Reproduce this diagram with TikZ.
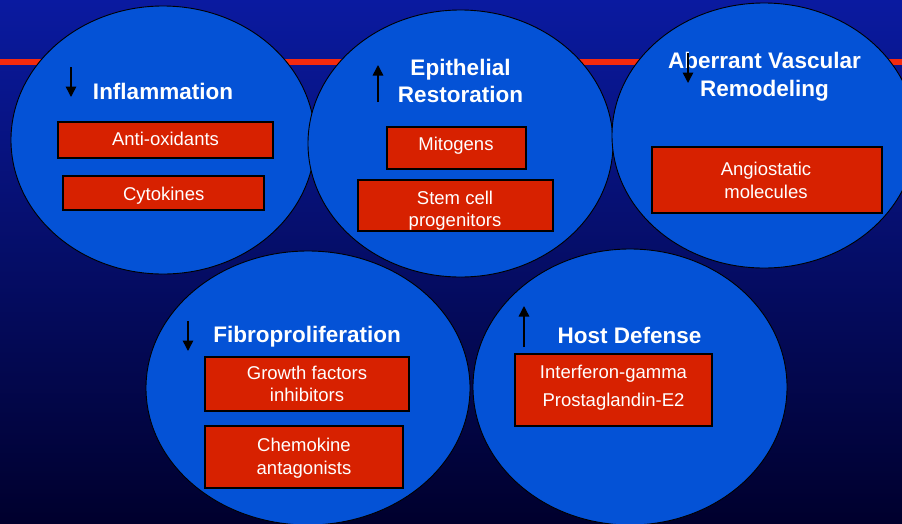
\documentclass[tikz,border=0pt]{standalone}
\usepackage{fontspec}
\setmainfont{Liberation Sans}
\usetikzlibrary{shapes.geometric,arrows.meta}
\definecolor{bgtop}{RGB}{10,26,160}
\definecolor{bgmid}{RGB}{0,22,138}
\definecolor{bgbot}{RGB}{0,0,45}
\definecolor{bubble}{RGB}{4,82,214}
\definecolor{boxred}{RGB}{215,33,0}
\definecolor{bandred}{RGB}{245,42,14}
\begin{document}
\begin{tikzpicture}[x=1pt,y=-1pt,
  bubblestyle/.style={ellipse, draw=black, fill=bubble, line width=0.9pt, inner sep=0pt},
  boxstyle/.style={rectangle, draw=black, fill=boxred, line width=1.1pt, inner sep=0pt},
  titlestyle/.style={font=\fontsize{22.5}{27}\selectfont\bfseries, text=white, anchor=base, inner sep=0pt},
  lblstyle/.style={font=\fontsize{18.5}{23}\selectfont, text=white, anchor=base, inner sep=0pt},
  arrowstyle/.style={black, line width=1.5pt, -{Triangle[width=10.5pt,length=10.5pt]}}]
\useasboundingbox (0,0) rectangle (902,523);
\clip (0,0) rectangle (902,523);
\fill[top color=bgtop, middle color=bgmid, bottom color=bgbot] (0,0) rectangle (902,523);
% red band
\coordinate (bandL) at (0,62);
\coordinate (bandR) at (902,62);
\draw[bandred, line width=5.5pt] (bandL) -- (bandR);
% bubbles
\node[bubblestyle, minimum width=304pt, minimum height=268pt] (e1) at (163,140) {};
\node[bubblestyle, minimum width=305pt, minimum height=267pt] (e2) at (460.5,143.5) {};
\node[bubblestyle, minimum width=304pt, minimum height=265pt] (e3) at (764,135.5) {};
\node[bubblestyle, minimum width=324pt, minimum height=274pt] (e4) at (308,388) {};
\node[bubblestyle, minimum width=314pt, minimum height=276pt] (e5) at (630,387) {};
% boxes
\node[boxstyle, minimum width=215pt, minimum height=36pt] (b1) at (165.5,140) {};
\node[boxstyle, minimum width=201pt, minimum height=34pt] (b2) at (163.5,193) {};
\node[boxstyle, minimum width=139pt, minimum height=42pt] (b3) at (456.5,148) {};
\node[boxstyle, minimum width=195pt, minimum height=51pt] (b4) at (455.5,205.5) {};
\node[boxstyle, minimum width=230pt, minimum height=66pt] (b5) at (767,180) {};
\node[boxstyle, minimum width=204pt, minimum height=54pt] (b6) at (307,384) {};
\node[boxstyle, minimum width=198pt, minimum height=62pt] (b7) at (304,457) {};
\node[boxstyle, minimum width=197pt, minimum height=72pt] (b8) at (613.5,390) {};
% titles
\node[titlestyle] (t1) at (163,99) {Inflammation};
\node[titlestyle] (t2a) at (460.5,75) {Epithelial};
\node[titlestyle] (t2b) at (460.5,102) {Restoration};
\node[titlestyle] (t3a) at (764.5,68) {Aberrant Vascular};
\node[titlestyle] (t3b) at (764.5,96) {Remodeling};
\node[titlestyle] (t4) at (307,342.5) {Fibroproliferation};
\node[titlestyle] (t5) at (629.5,343) {Host Defense};
% box labels
\node[lblstyle] (l1) at (165.5,145) {Anti-oxidants};
\node[lblstyle] (l2) at (163.7,200) {Cytokines};
\node[lblstyle] (l3) at (456,150) {Mitogens};
\node[lblstyle] (l4a) at (455,204.5) {Stem cell};
\node[lblstyle] (l4b) at (455,226.5) {progenitors};
\node[lblstyle] (l5a) at (766,175) {Angiostatic};
\node[lblstyle] (l5b) at (766,198) {molecules};
\node[lblstyle] (l6a) at (307,379.3) {Growth factors};
\node[lblstyle] (l6b) at (307,401.7) {inhibitors};
\node[lblstyle] (l7a) at (304,451.7) {Chemokine};
\node[lblstyle] (l7b) at (304,474) {antagonists};
\node[lblstyle] (l8a) at (613.5,378.3) {Interferon-gamma};
\node[lblstyle] (l8b) at (613.5,406) {Prostaglandin-E2};
% arrows
\coordinate (a1s) at (71,67);   \coordinate (a1e) at (71,97);
\coordinate (a2s) at (378,102); \coordinate (a2e) at (378,65);
\coordinate (a3s) at (688,53);  \coordinate (a3e) at (688,83);
\coordinate (a4s) at (188,321); \coordinate (a4e) at (188,351);
\coordinate (a5s) at (524,347); \coordinate (a5e) at (524,306);
\draw[arrowstyle] (a1s) -- (a1e);
\draw[arrowstyle] (a2s) -- (a2e);
\draw[arrowstyle] (a3s) -- (a3e);
\draw[arrowstyle] (a4s) -- (a4e);
\draw[arrowstyle] (a5s) -- (a5e);
\end{tikzpicture}
\end{document}
